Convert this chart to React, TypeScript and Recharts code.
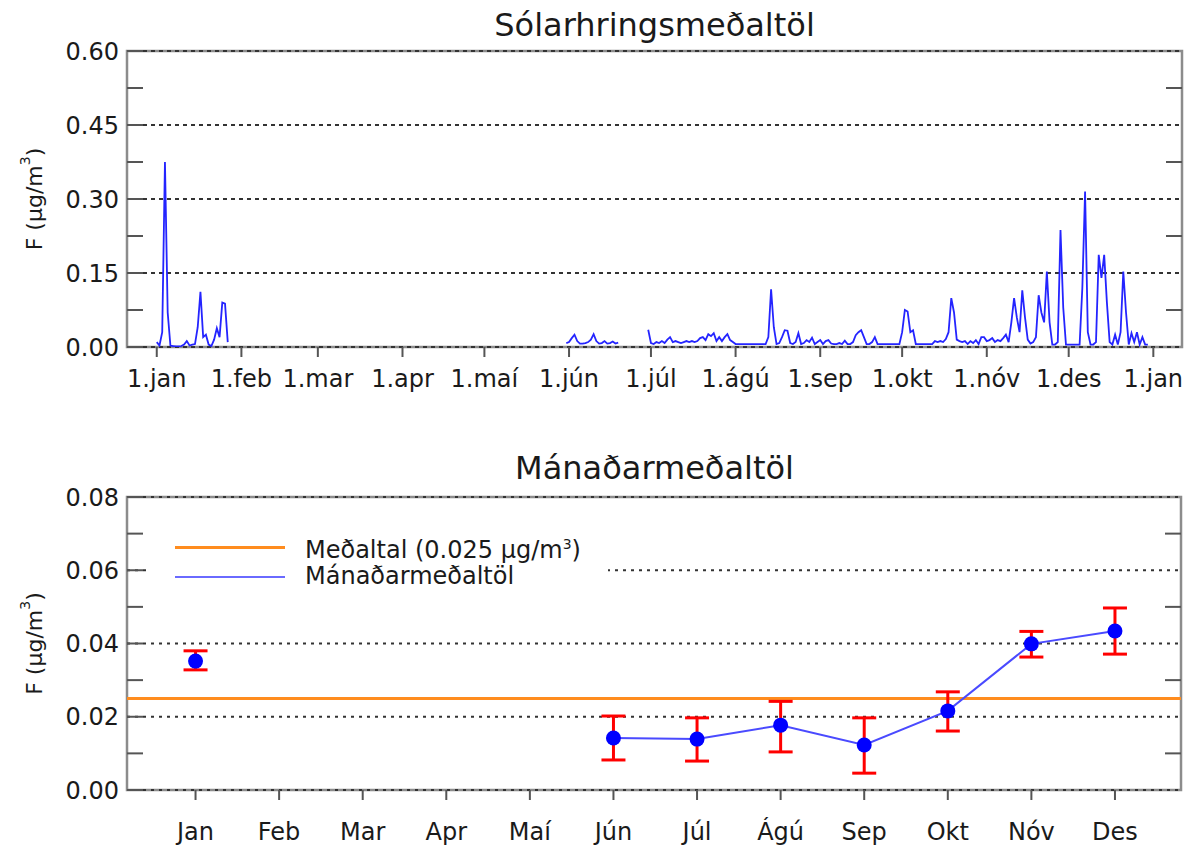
import React from 'react';
import {
  LineChart,
  ComposedChart,
  Line,
  XAxis,
  YAxis,
  ReferenceLine,
  ReferenceArea,
  ErrorBar,
  Legend,
} from 'recharts';

const FONT = '"DejaVu Sans", sans-serif';
const TEXT = '#1a1a1a';

// --- daily means (µg/m3), one value per day; day 0 = 1. jan
const janStart = 0;
const janValues = [
  0.01, 0.003, 0.03, 0.375, 0.07, 0.003, 0.002, 0.001, 0.001, 0.002,
  0.005, 0.012, 0.003, 0.005, 0.006, 0.04, 0.112, 0.02, 0.025, 0.005,
  0.002, 0.015, 0.038, 0.02, 0.09, 0.088, 0.01,
];
const junStart = 150;
const junValues = [
  0.008, 0.01, 0.018, 0.025, 0.012, 0.007, 0.007, 0.008, 0.01, 0.015,
  0.026, 0.012, 0.007, 0.008, 0.012, 0.007, 0.008, 0.011, 0.007, 0.009,
];
const julDesStart = 180;
const julDesValues = [
  0.035, 0.008, 0.006, 0.01, 0.008, 0.012, 0.008, 0.015, 0.02, 0.01,
  0.012, 0.01, 0.008, 0.01, 0.012, 0.01, 0.012, 0.01, 0.012, 0.018,
  0.02, 0.014, 0.026, 0.022, 0.028, 0.012, 0.02, 0.012, 0.02, 0.026,
  0.014, 0.01, 0.006, 0.006, 0.006, 0.006, 0.006, 0.006, 0.006, 0.006,
  0.006, 0.006, 0.006, 0.006, 0.02, 0.117, 0.04, 0.006, 0.008, 0.02,
  0.034, 0.033, 0.008, 0.006, 0.01, 0.028, 0.006, 0.008, 0.014, 0.01,
  0.019, 0.006, 0.01, 0.014, 0.006, 0.012, 0.014, 0.007, 0.006, 0.006,
  0.008, 0.006, 0.013, 0.006, 0.006, 0.01, 0.024, 0.03, 0.034, 0.02,
  0.006, 0.006, 0.01, 0.02, 0.006, 0.006, 0.006, 0.006, 0.006, 0.006,
  0.006, 0.006, 0.006, 0.03, 0.075, 0.072, 0.03, 0.034, 0.006, 0.006,
  0.006, 0.006, 0.006, 0.006, 0.006, 0.012, 0.01, 0.012, 0.01, 0.016,
  0.03, 0.099, 0.07, 0.015, 0.012, 0.01, 0.012, 0.006, 0.012, 0.008,
  0.014, 0.006, 0.02, 0.02, 0.012, 0.014, 0.018, 0.01, 0.014, 0.012,
  0.018, 0.025, 0.01, 0.05, 0.099, 0.06, 0.03, 0.115, 0.06, 0.015,
  0.007, 0.01, 0.02, 0.105, 0.07, 0.05, 0.153, 0.05, 0.005, 0.005,
  0.01, 0.237, 0.08, 0.005, 0.005, 0.005, 0.005, 0.005, 0.005, 0.12,
  0.315, 0.03, 0.005, 0.005, 0.01, 0.187, 0.14, 0.187, 0.09, 0.01,
  0.005, 0.025, 0.005, 0.03, 0.153, 0.07, 0.005, 0.028, 0.01, 0.03,
  0.005, 0.02, 0.005, 0.005,
];

const dayTicks = [0, 31, 59, 90, 120, 151, 181, 212, 243, 273, 304, 334, 365];
const dayTickLabels = [
  '1.jan', '1.feb', '1.mar', '1.apr', '1.maí', '1.jún', '1.júl',
  '1.ágú', '1.sep', '1.okt', '1.nóv', '1.des', '1.jan',
];
const dayDomain = [-10.9, 375.5];
const dailyYTicks = [0, 0.15, 0.3, 0.45, 0.6];
const dailyYMinor = [0.075, 0.225, 0.375, 0.525];

// --- monthly means with their ranges
const months = ['Jan', 'Feb', 'Mar', 'Apr', 'Maí', 'Jún', 'Júl', 'Ágú', 'Sep', 'Okt', 'Nóv', 'Des'];
const monthMean = [0.0352, null, null, null, null, 0.0142, 0.0139, 0.0177, 0.0123, 0.0216, 0.0399, 0.0434];
const monthLow = [0.0328, null, null, null, null, 0.0082, 0.0079, 0.0104, 0.0046, 0.0161, 0.0363, 0.0371];
const monthHigh = [0.038, null, null, null, null, 0.0202, 0.0197, 0.0242, 0.0197, 0.0268, 0.0433, 0.0497];
const overallMean = 0.025;
const monthNumbers = [1, 2, 3, 4, 5, 6, 7, 8, 9, 10, 11, 12];
const monthDomain = [0.18, 12.79];
const monthYTicks = [0, 0.02, 0.04, 0.06, 0.08];
const monthYMinor = [0.01, 0.03, 0.05, 0.07];

const segment = (start: number, values: number[]) =>
  values.map((v, i) => ({ day: start + i, value: v }));

const dailyData = [
  ...segment(janStart, janValues),
  { day: janStart + janValues.length, value: null },
  ...segment(junStart, junValues),
  { day: junStart + junValues.length, value: null },
  ...segment(julDesStart, julDesValues),
];

const monthlyData = monthNumbers.map((m, i) => ({
  month: m,
  mean: monthMean[i],
  err: monthMean[i] == null ? null : [monthMean[i]! - monthLow[i]!, monthHigh[i]! - monthMean[i]!],
}));

const tickStyle = { fontSize: 24, fill: TEXT };
const tickLineStyle = { stroke: '#555', strokeWidth: 2 };

const UnitLabel = (props: any) => {
  const vb = props.viewBox || { x: 0, y: 0, width: 0, height: 0 };
  const cx = vb.x + 34;
  const cy = vb.y + vb.height / 2;
  return (
    <text
      x={cx}
      y={cy}
      transform={`rotate(-90 ${cx} ${cy})`}
      textAnchor="middle"
      dominantBaseline="central"
      fontSize={22}
      fill={TEXT}
    >
      F (µg/m<tspan dy={-9} fontSize={14}>3</tspan>
      <tspan dy={9}>)</tspan>
    </text>
  );
};

const legendRows = [
  { color: '#ff8c1e', thickness: 3, text: 'Meðaltal (0.025 µg/m', sup: '3', tail: ')' },
  { color: '#6a6aff', thickness: 2, text: 'Mánaðarmeðaltöl', sup: '', tail: '' },
];

const MonthLegend = () => (
  <div style={{ background: '#fff', width: 458, fontFamily: FONT, color: TEXT }}>
    {legendRows.map((r) => (
      <div key={r.text} style={{ display: 'flex', alignItems: 'center', height: 29 }}>
        <div style={{ marginLeft: 25, width: 110, height: r.thickness, background: r.color }} />
        <span style={{ marginLeft: 20, fontSize: 24, lineHeight: '29px', whiteSpace: 'nowrap' }}>
          {r.text}
          {r.sup && <sup style={{ fontSize: 14, verticalAlign: 9 }}>{r.sup}</sup>}
          {r.tail}
        </span>
      </div>
    ))}
  </div>
);

const titleStyle: React.CSSProperties = {
  position: 'absolute',
  left: 127,
  width: 1055,
  textAlign: 'center',
  fontSize: 32,
  lineHeight: '32px',
  color: TEXT,
};

export default function App() {
  return (
    <div style={{ position: 'absolute', left: 0, top: 0, width: 1191, height: 849, background: '#fff', fontFamily: FONT }}>
      <div style={{ ...titleStyle, top: 9 }}>Sólarhringsmeðaltöl</div>
      <div style={{ position: 'absolute', left: 0, top: 0 }}>
        <LineChart width={1191} height={420} data={dailyData} margin={{ top: 51, right: 0, bottom: 0, left: 0 }}>
          <ReferenceArea
            x1={dayDomain[0]}
            x2={dayDomain[1]}
            y1={0}
            y2={0.6}
            fill="none"
            stroke="#8c8c8c"
            strokeWidth={2.5}
            ifOverflow="visible"
          />
          {dailyYTicks.map((t) => (
            <ReferenceLine key={t} y={t} stroke="#333" strokeWidth={2} strokeDasharray="4 4" />
          ))}
          <XAxis
            type="number"
            dataKey="day"
            domain={dayDomain}
            allowDataOverflow
            ticks={dayTicks}
            interval={0}
            tickFormatter={(v) => dayTickLabels[dayTicks.indexOf(v)]}
            axisLine={false}
            tickSize={10}
            tickMargin={13}
            tickLine={tickLineStyle}
            tick={tickStyle}
            height={73}
          />
          <YAxis
            type="number"
            domain={[0, 0.6]}
            allowDataOverflow
            ticks={[...dailyYTicks, ...dailyYMinor].sort((a, b) => a - b)}
            interval={0}
            tickFormatter={(v) => (dailyYTicks.includes(v) ? v.toFixed(2) : '')}
            width={127}
            axisLine={false}
            tickSize={-16}
            tickMargin={24}
            tickLine={tickLineStyle}
            tick={tickStyle}
            label={<UnitLabel />}
          />
          <YAxis
            yAxisId="minor"
            orientation="right"
            type="number"
            domain={[0, 0.6]}
            allowDataOverflow
            ticks={dailyYMinor}
            interval={0}
            tickFormatter={() => ''}
            width={9}
            axisLine={false}
            tickSize={-16}
            tickLine={tickLineStyle}
          />
          <Line
            type="linear"
            dataKey="value"
            stroke="#2424ff"
            strokeWidth={1.8}
            dot={false}
            activeDot={false}
            connectNulls={false}
            isAnimationActive={false}
          />
        </LineChart>
      </div>

      <div style={{ ...titleStyle, top: 452 }}>Mánaðarmeðaltöl</div>
      <div style={{ position: 'absolute', left: 0, top: 420 }}>
        <ComposedChart width={1191} height={429} data={monthlyData} margin={{ top: 77, right: 0, bottom: 0, left: 0 }}>
          <ReferenceArea
            x1={monthDomain[0]}
            x2={monthDomain[1]}
            y1={0}
            y2={0.08}
            fill="none"
            stroke="#8c8c8c"
            strokeWidth={2.5}
            ifOverflow="visible"
          />
          {monthYTicks.map((t) => (
            <ReferenceLine key={t} y={t} stroke="#333" strokeWidth={2} strokeDasharray="3 5" />
          ))}
          <ReferenceLine y={overallMean} stroke="#ff8c1e" strokeWidth={3} />
          <XAxis
            type="number"
            dataKey="month"
            domain={monthDomain}
            allowDataOverflow
            ticks={monthNumbers}
            interval={0}
            tickFormatter={(v) => months[monthNumbers.indexOf(v)]}
            axisLine={false}
            tickSize={10}
            tickMargin={23}
            tickLine={tickLineStyle}
            tick={tickStyle}
            height={59}
          />
          <YAxis
            type="number"
            domain={[0, 0.08]}
            allowDataOverflow
            ticks={[...monthYTicks, ...monthYMinor].sort((a, b) => a - b)}
            interval={0}
            tickFormatter={(v) => (monthYTicks.includes(v) ? v.toFixed(2) : '')}
            width={127}
            axisLine={false}
            tickSize={-16}
            tickMargin={24}
            tickLine={tickLineStyle}
            tick={tickStyle}
            label={<UnitLabel />}
          />
          <YAxis
            yAxisId="minor"
            orientation="right"
            type="number"
            domain={[0, 0.08]}
            allowDataOverflow
            ticks={monthYMinor}
            interval={0}
            tickFormatter={() => ''}
            width={10}
            axisLine={false}
            tickSize={-16}
            tickLine={tickLineStyle}
          />
          <Legend
            layout="horizontal"
            verticalAlign="middle"
            align="center"
            content={() => <MonthLegend />}
            wrapperStyle={{ left: 150, top: 113, width: 458 }}
          />
          <Line
            type="linear"
            dataKey="mean"
            stroke="#4a4aff"
            strokeWidth={2}
            dot={{ r: 7.5, fill: '#0000ff', stroke: 'none' }}
            activeDot={false}
            connectNulls={false}
            isAnimationActive={false}
          >
            <ErrorBar dataKey="err" direction="y" width={12} stroke="#ff0000" strokeWidth={3} isAnimationActive={false} />
          </Line>
        </ComposedChart>
      </div>
    </div>
  );
}
